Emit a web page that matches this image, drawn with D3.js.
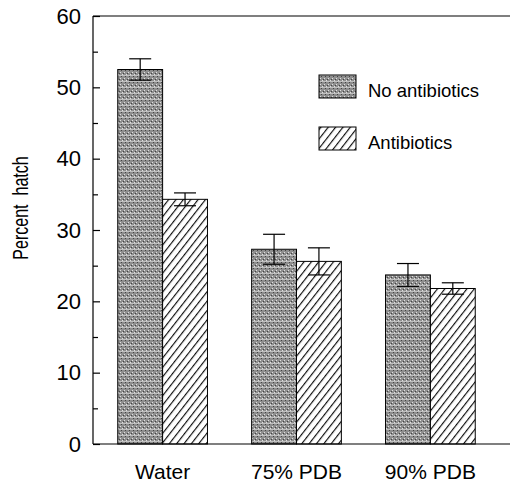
<!DOCTYPE html>
<html>
<head>
<meta charset="utf-8">
<script src="https://cdn.jsdelivr.net/npm/d3@7"></script>
<style>
  html, body { margin: 0; padding: 0; background: #fff; }
  svg { display: block; font-family: "Liberation Sans", Arial, Helvetica, sans-serif; }
</style>
</head>
<body>
<svg id="chart" width="511" height="483"></svg>
<script>
// ---- data ----
const categories = ["Water", "75% PDB", "90% PDB"];
const seriesNames = ["No antibiotics", "Antibiotics"];
const noAntibiotics = [52.5, 27.3, 23.7];
const noAntibioticsErr = [1.5, 2.1, 1.6];
const antibiotics = [34.3, 25.6, 21.8];
const antibioticsErr = [0.9, 1.9, 0.8];
const yTicks = [0, 10, 20, 30, 40, 50, 60];
const yMinorTicks = [5, 15, 25, 35, 45, 55];
const yTitle = "Percent  hatch";

const seriesValues = [noAntibiotics, antibiotics];
const seriesErrors = [noAntibioticsErr, antibioticsErr];

const svg = d3.select("#chart");
const mLeft = 93, mRight = 510, mTop = 16, mBottom = 444;

const defs = svg.append("defs");
// stippled gray pattern
const pg = defs.append("pattern").attr("id", "gray").attr("patternUnits", "userSpaceOnUse")
  .attr("width", 4).attr("height", 6);
pg.append("rect").attr("width", 4).attr("height", 6).attr("fill", "#8e8e8e");
pg.append("rect").attr("x", 0).attr("y", 0).attr("width", 1).attr("height", 1).attr("fill", "#e0e0e0");
pg.append("rect").attr("x", 2).attr("y", 2).attr("width", 1).attr("height", 1).attr("fill", "#e0e0e0");
pg.append("rect").attr("x", 1).attr("y", 4).attr("width", 1).attr("height", 1).attr("fill", "#444");
pg.append("rect").attr("x", 3).attr("y", 1).attr("width", 1).attr("height", 1).attr("fill", "#444");
pg.append("rect").attr("x", 0).attr("y", 3).attr("width", 4).attr("height", 1).attr("fill", "#c0c0c0");
// diagonal hatch
const ph = defs.append("pattern").attr("id", "hatch").attr("patternUnits", "userSpaceOnUse")
  .attr("width", 5.8).attr("height", 10).attr("patternTransform", "rotate(38)");
ph.append("rect").attr("width", 5.8).attr("height", 10).attr("fill", "#fff");
ph.append("line").attr("x1", 0.6).attr("y1", 0).attr("x2", 0.6).attr("y2", 10)
  .attr("stroke", "#000").attr("stroke-width", 1.1);
const fills = ["url(#gray)", "url(#hatch)"];

const y = d3.scaleLinear().domain([0, 60]).range([mBottom, mTop]);
const x0 = d3.scaleBand().domain(categories).range([95, 498]).paddingInner(0.33).paddingOuter(0.17);
const x1 = d3.scaleBand().domain(seriesNames).range([0, x0.bandwidth()]).padding(0);

// bars
categories.forEach((c, i) => {
  seriesNames.forEach((s, j) => {
    const v = seriesValues[j][i];
    svg.append("rect")
      .attr("x", x0(c) + x1(s))
      .attr("y", y(v))
      .attr("width", x1.bandwidth())
      .attr("height", y(0) - y(v))
      .attr("fill", fills[j])
      .attr("stroke", "#000").attr("stroke-width", 1);
  });
});

// error bars
categories.forEach((c, i) => {
  seriesNames.forEach((s, j) => {
    const v = seriesValues[j][i], e = seriesErrors[j][i];
    const cx = x0(c) + x1(s) + x1.bandwidth() / 2;
    const g = svg.append("g").attr("stroke", "#000").attr("stroke-width", 1.2);
    g.append("line").attr("x1", cx).attr("x2", cx).attr("y1", y(v - e)).attr("y2", y(v + e));
    g.append("line").attr("x1", cx - 11).attr("x2", cx + 11).attr("y1", y(v + e)).attr("y2", y(v + e));
    g.append("line").attr("x1", cx - 11).attr("x2", cx + 11).attr("y1", y(v - e)).attr("y2", y(v - e));
  });
});

// frame: left, top, bottom
svg.append("line").attr("x1", mLeft).attr("x2", mLeft).attr("y1", mTop).attr("y2", mBottom)
  .attr("stroke", "#000").attr("stroke-width", 1.2);
svg.append("line").attr("x1", mLeft).attr("x2", mRight).attr("y1", mTop).attr("y2", mTop)
  .attr("stroke", "#000").attr("stroke-width", 1.2);
svg.append("line").attr("x1", mLeft).attr("x2", mRight).attr("y1", mBottom).attr("y2", mBottom)
  .attr("stroke", "#000").attr("stroke-width", 1.2);

// y axis (ticks inward)
const yAxis = d3.axisLeft(y).tickValues(yTicks).tickSize(-7).tickPadding(12).tickFormat(d3.format("d"));
const gy = svg.append("g").attr("transform", `translate(${mLeft},0)`).call(yAxis);
gy.select(".domain").remove();
gy.selectAll(".tick line").attr("stroke", "#000").attr("stroke-width", 1.2);
gy.selectAll(".tick text").attr("font-size", 22).attr("fill", "#000")
  .attr("font-family", "Liberation Sans, Arial, sans-serif");
const yMinor = d3.axisLeft(y).tickValues(yMinorTicks).tickSize(-5).tickFormat("");
const gym = svg.append("g").attr("transform", `translate(${mLeft},0)`).call(yMinor);
gym.select(".domain").remove();
gym.selectAll(".tick line").attr("stroke", "#000").attr("stroke-width", 1.2);

// x axis labels
const xAxis = d3.axisBottom(x0).tickSize(0).tickPadding(20);
const gx = svg.append("g").attr("transform", `translate(0,${mBottom})`).call(xAxis);
gx.select(".domain").remove();
gx.selectAll(".tick text").attr("font-size", 21).attr("fill", "#000")
  .attr("font-family", "Liberation Sans, Arial, sans-serif");

// y title
svg.append("text")
  .attr("transform", "translate(28,208) rotate(-90) scale(0.73,1)")
  .attr("text-anchor", "middle")
  .attr("font-size", 22)
  .style("white-space", "pre")
  .text(yTitle);

// legend
const legendY = [75, 127];
seriesNames.forEach((s, j) => {
  svg.append("rect").attr("x", 319).attr("y", legendY[j]).attr("width", 37).attr("height", 23)
    .attr("fill", fills[j]).attr("stroke", "#000").attr("stroke-width", 1);
  svg.append("text").attr("x", 368).attr("y", legendY[j] + 22)
    .attr("font-size", 18.5).attr("fill", "#000").text(s);
});
</script>
</body>
</html>
